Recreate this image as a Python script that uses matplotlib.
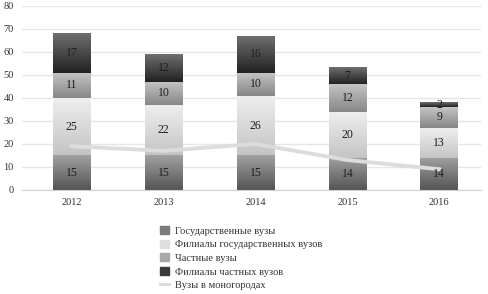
import numpy as np
from matplotlib import pyplot as plt
from matplotlib.colors import LinearSegmentedColormap
from matplotlib.patches import Patch
from matplotlib.lines import Line2D

plt.rcParams['font.family'] = ['Liberation Serif', 'DejaVu Serif']

# Данные
years = ['2012', '2013', '2014', '2015', '2016']
gos = [15, 15, 15, 14, 14]
fil_gos = [25, 22, 26, 20, 13]
chast = [11, 10, 10, 12, 9]
fil_chast = [17, 12, 16, 7, 2]
monogorod = [19, 17, 20, 13, 9]

series = [gos, fil_gos, chast, fil_chast]
names = ['Государственные вузы', 'Филиалы государственных вузов',
         'Частные вузы', 'Филиалы частных вузов']
# (низ, верх) градиента для каждого сегмента
grads = [('#555555', '#a0a0a0'), ('#c4c4c4', '#efefef'),
         ('#878787', '#c4c4c4'), ('#222222', '#6e6e6e')]
solid = ['#7a7a7a', '#dedede', '#a8a8a8', '#3a3a3a']

fig = plt.figure(figsize=(4.88, 2.94), dpi=100)
ax = fig.add_axes([0.045, 0.354, 0.94, 0.626])

x = np.arange(len(years))
w = 0.41
bottom = np.zeros(len(years))
grad = np.linspace(0, 1, 64).reshape(-1, 1)
for vals, (c0, c1) in zip(series, grads):
    vals = np.array(vals)
    cmap = LinearSegmentedColormap.from_list('g', [c0, c1])
    bars = ax.bar(x, vals, w, bottom=bottom, color='none', zorder=2)
    for b, v in zip(bars, vals):
        x0, y0 = b.get_x(), b.get_y()
        ax.imshow(grad, extent=[x0, x0 + w, y0, y0 + v], origin='lower',
                  aspect='auto', cmap=cmap, zorder=2)
        ax.text(x0 + w / 2, y0 + v / 2, str(v), ha='center', va='center',
                fontsize=8.5, color='#1e1e1e', zorder=4)
    bottom += vals

ax.plot(x, monogorod, color='#dcdcdc', lw=2.8, zorder=3)

ax.set_xlim(-0.54, 4.45)
ax.set_ylim(0, 80)
ax.set_yticks(range(0, 81, 10))
ax.set_xticks(x)
ax.set_xticklabels(years)
ax.grid(axis='y', color='#e6e6e6', lw=1, zorder=0)
ax.set_axisbelow(True)
for s in ['top', 'right', 'left']:
    ax.spines[s].set_visible(False)
ax.spines['bottom'].set_color('#d0d0d0')
ax.tick_params(length=0, labelsize=7.5, colors='#333333', pad=6)

handles = [Patch(color=c) for c in solid]
handles.append(Line2D([], [], color='#d9d9d9', lw=2))
fig.legend(handles, names + ['Вузы в моногородах'], loc='upper left',
           bbox_to_anchor=(0.318, 0.248), frameon=False, fontsize=7.5,
           handlelength=0.8, handleheight=0.8, handletextpad=0.6,
           labelspacing=0.38, borderpad=0, labelcolor='#333333')

plt.savefig('out.png', dpi=100)
